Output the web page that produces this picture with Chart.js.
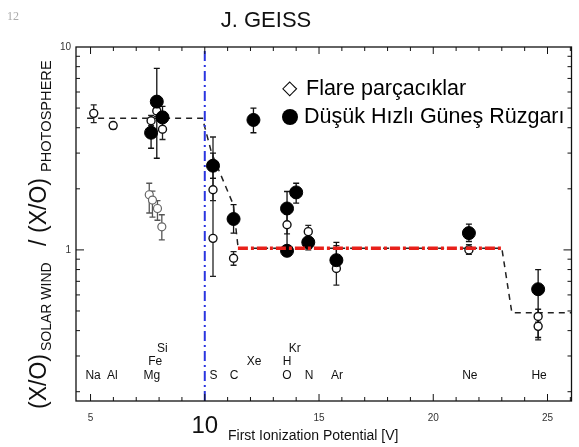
<!DOCTYPE html>
<html>
<head>
<meta charset="utf-8">
<script src="https://cdn.jsdelivr.net/npm/chart.js@4.4.0/dist/chart.umd.min.js"></script>
<style>
  body { margin: 0; background: #fff; }
  #wrap { width: 579px; height: 447px; }
</style>
</head>
<body>
<div id="wrap"><canvas id="myChart" width="579" height="447"></canvas></div>
<script>
// first ionization potential (V) vs abundance ratio

// filled circles - slow solar wind
const windX  = [7.65, 7.90, 8.15, 10.36, 11.26, 12.13, 13.60, 13.60, 14.00, 14.53, 15.76, 21.56, 24.59];
const windY  = [3.78, 5.38, 4.50, 2.60, 1.42, 4.37, 1.60, 0.99, 1.92, 1.09, 0.89, 1.21, 0.64];
const windLo = [3.17, 2.83, 4.00, 2.25, 1.21, 3.78, 1.00, 0.95, 1.70, 1.00, 0.80, 1.10, 0.37];
const windHi = [4.40, 7.85, 5.10, 3.00, 1.67, 5.00, 1.94, 1.04, 2.13, 1.20, 1.09, 1.34, 0.80];

// open markers - flare particles
const flareX  = [5.14, 5.99, 7.65, 7.90, 8.15, 10.36, 10.36, 11.26, 13.60, 13.60, 14.53, 15.76, 21.56, 24.59, 24.59];
const flareY  = [4.71, 4.10, 4.33, 4.84, 3.93, 1.98, 1.14, 0.91, 1.33, 1.00, 1.23, 0.81, 1.00, 0.47, 0.42];
const flareLo = [4.24, 3.95, 4.10, 4.55, 3.50, 1.75, 0.74, 0.84, 1.20, 0.96, 1.15, 0.67, 0.95, 0.44, 0.36];
const flareHi = [5.18, 4.25, 4.60, 5.15, 4.30, 2.25, 3.60, 0.98, 1.50, 1.04, 1.32, 1.05, 1.06, 0.51, 0.48];

// lower grey open markers near Mg/Fe/Si
const lowX  = [7.57, 7.71, 7.93, 8.12];
const lowY  = [1.87, 1.76, 1.60, 1.30];
const lowLo = [1.52, 1.45, 1.40, 1.12];
const lowHi = [2.13, 1.95, 1.75, 1.49];

// black dashed step curve
const stepX = [4.85, 9.90, 10.30, 11.25, 11.46, 23.00, 23.44, 26.05];
const stepY = [4.45, 4.45, 3.00, 1.67, 1.02, 1.02, 0.49, 0.49];

// red dashed level
const redX = [11.45, 23.00];
const redY = [1.02, 1.02];

// blue dash-dot FIP = 10 V
const blueX = [10, 10];
const blueY = [0.18, 10];

// element labels at the bottom (x = FIP, row = stacking level)
const elemNames = ['Na', 'Al', 'Mg', 'Fe', 'Si', 'S', 'C', 'Xe', 'H', 'Kr', 'O', 'N', 'Ar', 'Ne', 'He'];
const elemX     = [5.11, 5.95, 7.68, 7.83, 8.14, 10.38, 11.28, 12.16, 13.60, 13.94, 13.60, 14.57, 15.79, 21.60, 24.63];
const elemRow   = [0, 0, 0, 1, 2, 0, 0, 1, 1, 2, 0, 0, 0, 0, 0];

const xTickValues = [5, 10, 15, 20, 25];
const xTickLabels = ['5', '10', '15', '20', '25'];
const yTickValues = [1, 10];
const yTickLabels = ['1', '10'];

const FONT = '"Liberation Sans", Arial, sans-serif';

function pts(xs, ys) {
  return xs.map((x, i) => ({ x: x, y: ys[i] }));
}

const decor = {
  id: 'decor',
  beforeDatasetsDraw(chart) {
    // error bars
    const c = chart.ctx;
    const xs = chart.scales.x, ys = chart.scales.y;
    chart.data.datasets.forEach(ds => {
      if (!ds.errLo) return;
      c.save();
      c.strokeStyle = ds.errColor;
      c.lineWidth = 1.3;
      ds.data.forEach((p, i) => {
        const px = xs.getPixelForValue(p.x);
        const y1 = ys.getPixelForValue(ds.errLo[i]);
        const y2 = ys.getPixelForValue(ds.errHi[i]);
        c.beginPath();
        c.moveTo(px, y1); c.lineTo(px, y2);
        c.moveTo(px - 3, y1); c.lineTo(px + 3, y1);
        c.moveTo(px - 3, y2); c.lineTo(px + 3, y2);
        c.stroke();
      });
      c.restore();
    });
  },
  afterDraw(chart) {
    const c = chart.ctx;
    const a = chart.chartArea;
    const xs = chart.scales.x, ys = chart.scales.y;
    c.save();

    // frame
    c.strokeStyle = '#111';
    c.lineWidth = 1.3;
    c.strokeRect(a.left, a.top, a.right - a.left, a.bottom - a.top);

    // inward ticks, x
    c.lineWidth = 1;
    for (let v = 5; v <= 26; v++) {
      const px = xs.getPixelForValue(v);
      const len = v % 5 === 0 ? 7 : 4;
      c.beginPath();
      c.moveTo(px, a.bottom); c.lineTo(px, a.bottom - len);
      c.moveTo(px, a.top); c.lineTo(px, a.top + len);
      c.stroke();
    }
    // inward ticks, y (log)
    const minor = [0.2, 0.3, 0.4, 0.5, 0.6, 0.7, 0.8, 0.9, 1, 2, 3, 4, 5, 6, 7, 8, 9];
    minor.forEach(v => {
      const py = ys.getPixelForValue(v);
      const len = v === 1 ? 8 : 4;
      c.beginPath();
      c.moveTo(a.left, py); c.lineTo(a.left + len, py);
      c.moveTo(a.right, py); c.lineTo(a.right - len, py);
      c.stroke();
    });

    // element names
    c.fillStyle = '#111';
    c.font = '12px ' + FONT;
    c.textAlign = 'center';
    c.textBaseline = 'middle';
    const rowY = [376, 362, 349];
    elemNames.forEach((n, i) => {
      c.fillText(n, xs.getPixelForValue(elemX[i]), rowY[elemRow[i]]);
    });

    // big 10 under the axis
    c.font = '24px ' + FONT;
    c.fillText(xTickLabels[1], xs.getPixelForValue(xTickValues[1]), 426);

    // x axis title
    c.font = '14px ' + FONT;
    c.textAlign = 'left';
    c.fillText('First Ionization Potential [V]', 228, 436);

    // title + page number
    c.textAlign = 'center';
    c.font = '22px ' + FONT;
    c.fillText('J. GEISS', 266, 21);
    c.fillStyle = '#aaa';
    c.font = '12px "Liberation Serif", serif';
    c.fillText('12', 13, 17);

    // y axis title, rotated (pieces placed along the axis)
    c.fillStyle = '#111';
    c.translate(46, 409);
    c.rotate(-Math.PI / 2);
    c.textAlign = 'left';
    c.textBaseline = 'alphabetic';
    const parts = [
      ['(X/O)', 23, 0, 0], ['SOLAR WIND', 14, 5, 58], ['/', 23, 0, 163],
      ['(X/O)', 23, 0, 176], ['PHOTOSPHERE', 14.6, 5, 237]
    ];
    parts.forEach(p => {
      c.font = p[1] + 'px ' + FONT;
      c.fillText(p[0], p[3], p[2]);
    });
    c.setTransform(1, 0, 0, 1, 0, 0);

    // legend
    c.fillStyle = '#000';
    c.textAlign = 'left';
    c.textBaseline = 'middle';
    c.font = '20px "DejaVu Sans", sans-serif';
    c.fillText('\u25C7', 282, 89);
    c.beginPath();
    c.arc(290, 117, 8, 0, Math.PI * 2);
    c.fill();
    c.font = '21.5px ' + FONT;
    c.fillText('Flare parçacıklar', 306, 89);
    c.fillText('Düşük Hızlı Güneş Rüzgarı', 304, 117);

    c.restore();
  }
};

const data = {
  datasets: [
    {
      type: 'line', data: pts(stepX, stepY),
      borderColor: '#222', borderWidth: 1.5, borderDash: [6, 5],
      pointRadius: 0, order: 5
    },
    {
      type: 'line', data: pts(redX, redY),
      borderColor: '#e8201a', borderWidth: 3.5, borderDash: [10, 3, 3, 3],
      pointRadius: 0, order: 1
    },
    {
      type: 'line', data: pts(blueX, blueY),
      borderColor: '#2a35e0', borderWidth: 2, borderDash: [10, 4, 2, 4],
      pointRadius: 0, order: 4
    },
    {
      type: 'scatter', data: pts(lowX, lowY), errLo: lowLo, errHi: lowHi, errColor: '#555',
      pointStyle: 'circle', pointRadius: 4, borderColor: '#666', borderWidth: 1.2,
      backgroundColor: '#fff', order: 3
    },
    {
      type: 'scatter', data: pts(flareX, flareY), errLo: flareLo, errHi: flareHi, errColor: '#222',
      pointStyle: 'circle', pointRadius: 4, borderColor: '#111', borderWidth: 1.4,
      backgroundColor: '#fff', order: 3
    },
    {
      type: 'scatter', data: pts(windX, windY), errLo: windLo, errHi: windHi, errColor: '#111',
      pointStyle: 'circle', pointRadius: 6.5, borderColor: '#000', borderWidth: 1,
      backgroundColor: '#000', order: 2
    }
  ]
};

const options = {
  responsive: false,
  animation: false,
  layout: { padding: { top: 47, right: 2, left: 0, bottom: 0 } },
  plugins: { legend: { display: false }, tooltip: { enabled: false } },
  scales: {
    x: {
      type: 'linear', min: 4.364, max: 26.05,
      grid: { display: false, drawTicks: false },
      border: { display: false },
      afterBuildTicks: s => { s.ticks = xTickValues.map(v => ({ value: v })); },
      afterFit: s => { s.height = 46; },
      ticks: {
        padding: 11, color: '#333', font: { size: 10, family: FONT },
        callback: v => v === 10 ? '' : xTickLabels[xTickValues.indexOf(v)]
      }
    },
    y: {
      type: 'logarithmic', min: 0.18, max: 10,
      grid: { display: false, drawTicks: false },
      border: { display: false },
      afterBuildTicks: s => { s.ticks = yTickValues.map(v => ({ value: v })); },
      afterFit: s => { s.width = 76; },
      ticks: {
        padding: 5, color: '#333', font: { size: 10, family: FONT },
        callback: v => yTickLabels[yTickValues.indexOf(v)]
      }
    }
  }
};

const ctx = document.getElementById('myChart').getContext('2d');
const myChart = new Chart(ctx, {
  type: 'scatter',
  data: data,
  options: options,
  plugins: [decor]
});
</script>
</body>
</html>
